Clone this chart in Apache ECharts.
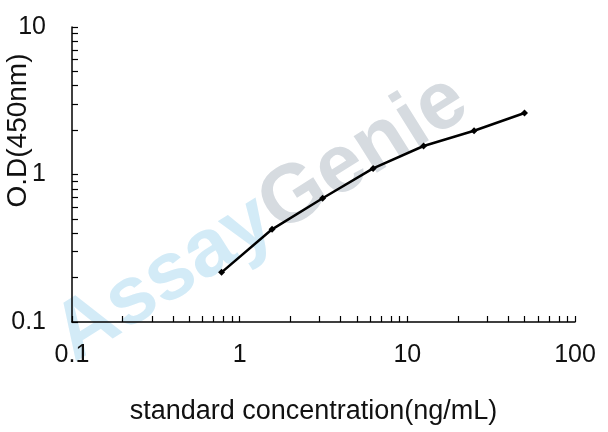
<!DOCTYPE html>
<html>
<head>
<meta charset="utf-8">
<script src="https://cdn.jsdelivr.net/npm/echarts@6/dist/echarts.min.js"></script>
<style>html,body{margin:0;padding:0;background:#fff}#c{width:608px;height:432px}</style>
</head>
<body>
<div id="c"></div>
<script>
var concentrations = [0.78, 1.56, 3.125, 6.25, 12.5, 25, 50];
var odValues = [0.217, 0.425, 0.69, 1.10, 1.56, 1.98, 2.61];
var xTickValues = [0.1,0.2,0.3,0.4,0.5,0.6,0.7,0.8,0.9,1,2,3,4,5,6,7,8,9,10,20,30,40,50,60,70,80,90,100];
var yTickValues = [0.1,0.2,0.3,0.4,0.5,0.6,0.7,0.8,0.9,1,2,3,4,5,6,7,8,9,10];
var xLabelValues = [0.1, 1, 10, 100];
var yLabelValues = [0.1, 1, 10];
var xTitle = 'standard concentration(ng/mL)';
var yTitle = 'O.D(450nm)';

var FONT = '"Liberation Sans", Arial, sans-serif';
var chart = echarts.init(document.getElementById('c'));
chart.setOption({
  animation: false,
  backgroundColor: '#fff',
  grid: {left: 72, right: 33, top: 27, bottom: 110, containLabel: false, outerBoundsMode: 'none'},
  graphic: [{
    type: 'group', x: 84, y: 378, rotation: 0.56, z: 0, silent: true,
    children: [
      {type: 'text', x: 0, y: 0, style: {text: 'Assay', font: 'bold 82px ' + FONT, fill: '#d3ebf7', textVerticalAlign: 'bottom'}},
      {type: 'text', x: 242, y: 0, style: {text: 'Genie', font: 'bold 82px ' + FONT, fill: '#d6dbe0', textVerticalAlign: 'bottom'}}
    ]
  }],
  xAxis: {
    type: 'log', logBase: 10, min: 0.1, max: 100,
    name: xTitle, nameLocation: 'middle', nameGap: 76, nameMoveOverlap: false,
    nameTextStyle: {fontFamily: FONT, fontSize: 27, color: '#111', padding: [0, 20, 0, 0]},
    axisLine: {lineStyle: {color: '#000', width: 1.5}},
    axisTick: {inside: true, length: 6, customValues: xTickValues, lineStyle: {color: '#000', width: 1.2}},
    minorTick: {show: false},
    axisLabel: {customValues: xLabelValues, fontFamily: FONT, fontSize: 25, color: '#111', margin: 21,
      formatter: function (v) { return String(+v.toPrecision(6)); }},
    splitLine: {show: false}
  },
  yAxis: {
    type: 'log', logBase: 10, min: 0.1, max: 10,
    name: yTitle, nameLocation: 'middle', nameGap: 40, nameMoveOverlap: false,
    nameTextStyle: {fontFamily: FONT, fontSize: 28, color: '#111', padding: [0, 0, 0, 88]},
    axisLine: {lineStyle: {color: '#000', width: 1.5}},
    axisTick: {inside: true, length: 6, customValues: yTickValues, lineStyle: {color: '#000', width: 1.2}},
    minorTick: {show: false},
    axisLabel: {customValues: yLabelValues, fontFamily: FONT, fontSize: 25, color: '#111', margin: 26,
      formatter: function (v) { return String(+v.toPrecision(6)); }},
    splitLine: {show: false}
  },
  series: [{
    type: 'line',
    data: concentrations.map(function (c, i) { return [c, odValues[i]]; }),
    symbol: 'diamond', symbolSize: 7,
    itemStyle: {color: '#000'},
    lineStyle: {color: '#000', width: 2.5},
    z: 5
  }]
});
</script>
</body>
</html>
